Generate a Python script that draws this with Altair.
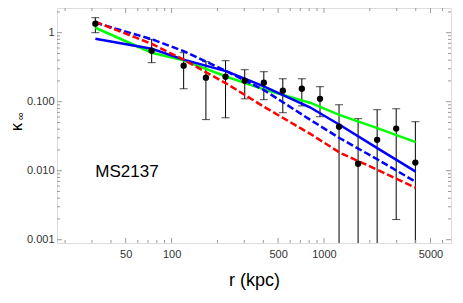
import altair as alt
import pandas as pd

# ---- data ----
r_pts = [31.6, 74, 120, 168, 226, 302, 403, 537, 716, 942, 1256, 1675, 2234, 2979, 3980]
k_pts = [1.35, 0.548, 0.333, 0.223, 0.230, 0.201, 0.188, 0.144, 0.154, 0.110, 0.0434, 0.0126, 0.028, 0.0408, 0.0131]
k_hi = [1.65, 0.80, 0.513, 0.380, 0.393, 0.291, 0.272, 0.215, 0.215, 0.165, 0.0903, 0.0568, 0.0766, 0.079, 0.0513]
k_lo = [1.0, 0.368, 0.154, 0.055, 0.0585, 0.110, 0.107, 0.0693, 0.087, 0.0606, 0.0001, 0.0001, 0.0001, 0.00196, 0.0001]

r_model = [31.6, 74, 120, 230, 403, 809, 1273, 2265, 4000]
green = [1.18, 0.513, 0.397, 0.230, 0.151, 0.0968, 0.064, 0.041, 0.026]
blue_solid = [0.819, 0.586, 0.407, 0.275, 0.167, 0.083, 0.046, 0.0209, 0.0097]
blue_dashed = [1.396, 0.805, 0.541, 0.275, 0.148, 0.055, 0.0295, 0.0144, 0.0069]
red_dashed = [1.44, 0.69, 0.406, 0.182, 0.0847, 0.0344, 0.0182, 0.0102, 0.00567]

x_major = [50, 100, 500, 1000, 5000]
x_minor = [20, 30, 40, 60, 70, 80, 90, 200, 300, 400, 600, 700, 800, 900,
           2000, 3000, 4000, 6000]
y_major = [0.001, 0.01, 0.1, 1]
y_minor = [0.002, 0.003, 0.004, 0.005, 0.006, 0.007, 0.008, 0.009,
           0.02, 0.03, 0.04, 0.05, 0.06, 0.07, 0.08, 0.09,
           0.2, 0.3, 0.4, 0.5, 0.6, 0.7, 0.8, 0.9, 2]

label_text = ["MS2137"]
label_r = [31.6]
label_k = [0.0082]

W, H = 394, 235
FONT = "Liberation Sans"
FRAME = "#9a9a9a"

xs = alt.Scale(type="log", domain=[17.7, 6820], nice=False)
ys = alt.Scale(type="log", domain=[0.000896, 2.28], nice=False)

pts = pd.DataFrame({"r": r_pts, "k": k_pts, "hi": k_hi, "lo": k_lo})
caps = pd.DataFrame({"r": r_pts + r_pts, "k": k_hi + k_lo})

models = []
for name, vals in [("green", green), ("blue_solid", blue_solid),
                   ("blue_dashed", blue_dashed), ("red_dashed", red_dashed)]:
    for r, k in zip(r_model, vals):
        models.append({"model": name, "r": r, "k": k})
mdf = pd.DataFrame(models)

x_axis = alt.Axis(values=x_major, format="d", ticks=False, tickSize=0, domain=False,
                  grid=False, labelFont=FONT, labelFontSize=11, labelColor="#333",
                  labelPadding=5, title="r (kpc)", titleFont=FONT, titleFontSize=18,
                  titleFontWeight="normal", titleColor="#000", titleX=197, titleY=37,
                  titleBaseline="middle")
y_axis = alt.Axis(values=y_major, ticks=False, tickSize=0, domain=False, grid=False,
                  labelFont=FONT, labelFontSize=11, labelColor="#333", labelPadding=3,
                  labelExpr="datum.value >= 1 ? '1' : format(datum.value, '.3f')",
                  title=None)

X = lambda f: alt.X(f, scale=xs, axis=x_axis)
Y = lambda f: alt.Y(f, scale=ys, axis=y_axis)

base = alt.Chart(pts)

err = base.mark_rule(color="black", strokeWidth=1, clip=True).encode(
    x=X("r:Q"), y=Y("lo:Q"), y2="hi:Q",
)
capm = alt.Chart(caps).mark_tick(orient="horizontal", size=8, thickness=1,
                                  color="black", clip=True).encode(
    x=X("r:Q"), y=Y("k:Q"),
)

def line(name, color, dash=None):
    kw = dict(color=color, strokeWidth=2.5, clip=True)
    if dash:
        kw["strokeDash"] = dash
    return alt.Chart(mdf).transform_filter(alt.datum.model == name).mark_line(**kw).encode(
        x=X("r:Q"), y=Y("k:Q"),
    )

lines = [line("green", "#00ff00"), line("blue_solid", "#0000ff"),
         line("blue_dashed", "#0000ff", [7, 3]), line("red_dashed", "#ff0000", [7, 3])]

dots = base.mark_circle(color="black", size=40, opacity=1).encode(
    x=X("r:Q"), y=Y("k:Q"),
)

ann = alt.Chart(pd.DataFrame({"t": label_text, "r": label_r, "k": label_k})).mark_text(
    align="left", baseline="alphabetic", font=FONT, fontSize=17, color="black"
).encode(
    x=X("r:Q"), y=Y("k:Q"), text="t:N",
)

# inward frame ticks
tick_layers = []
for vals, L in [(x_major, 5), (x_minor, 3)]:
    d = alt.Chart(pd.DataFrame({"v": vals}))
    tick_layers.append(d.mark_rule(color=FRAME, strokeWidth=1).encode(
        x=X("v:Q"), y=alt.value(H), y2=alt.value(H - L)))
    tick_layers.append(d.mark_rule(color=FRAME, strokeWidth=1).encode(
        x=X("v:Q"), y=alt.value(0), y2=alt.value(L)))
for vals, L in [(y_major, 5), (y_minor, 3)]:
    d = alt.Chart(pd.DataFrame({"v": vals}))
    tick_layers.append(d.mark_rule(color=FRAME, strokeWidth=1).encode(
        y=Y("v:Q"), x=alt.value(0), x2=alt.value(L)))
    tick_layers.append(d.mark_rule(color=FRAME, strokeWidth=1).encode(
        y=Y("v:Q"), x=alt.value(W), x2=alt.value(W - L)))

kappa = alt.Chart(pd.DataFrame({"t": ["κ"]})).mark_text(
    angle=270, align="center", baseline="middle",
    font=FONT, fontSize=16, color="black").encode(
    x=alt.value(-40), y=alt.value(119), text="t:N")
inf = alt.Chart(pd.DataFrame({"t": ["∞"]})).mark_text(
    angle=270, align="center", baseline="middle",
    font=FONT, fontSize=11, color="black").encode(
    x=alt.value(-36), y=alt.value(108), text="t:N")

chart = alt.layer(err, capm, *lines, dots, ann, *tick_layers, kappa, inf).properties(
    width=W, height=H,
    autosize=alt.AutoSizeParams(type="none"),
    padding={"left": 49, "top": 0, "right": 4, "bottom": 52},
).configure_view(stroke=FRAME, strokeWidth=1).configure(background="white")

chart.save("out.html", embed_options={"renderer": "svg", "actions": False})
